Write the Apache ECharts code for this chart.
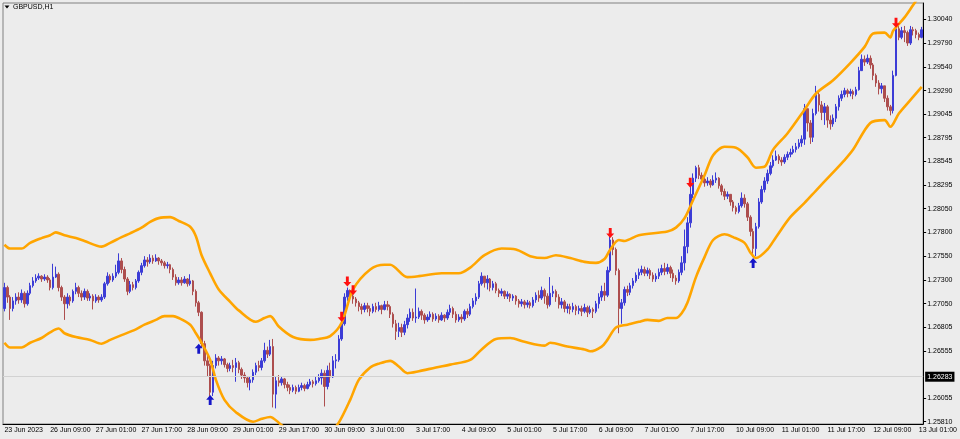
<!DOCTYPE html>
<html><head><meta charset="utf-8">
<script src="https://cdn.jsdelivr.net/npm/echarts@6/dist/echarts.min.js"></script>
<style>html,body{margin:0;padding:0;background:#ececec}#c{width:960px;height:439px}</style>
</head><body><div id="c"></div>
<script>
const symbolName = 'GBPUSD,H1';
const firstBarTime = Date.UTC(2023, 5, 23, 17);
const firstOpen = 1.2700;
const currentPrice = 1.26283;

const closes = [
1.2722,1.2712,1.2700,1.2708,1.2712,1.2709,1.2716,1.2705,1.2716,1.2724,
1.2729,1.2732,1.2734,1.2731,1.2733,1.2730,1.2722,1.2733,1.2736,1.2722,
1.2712,1.2705,1.2712,1.2708,1.2718,1.2722,1.2716,1.2712,1.2718,1.2711,
1.2713,1.2708,1.2712,1.2709,1.2712,1.2726,1.2734,1.2730,1.2734,1.2738,
1.2750,1.2741,1.2731,1.2718,1.2725,1.2722,1.2729,1.2738,1.2745,1.2751,
1.2749,1.2753,1.2750,1.2753,1.2750,1.2748,1.2745,1.2746,1.2741,1.2733,
1.2727,1.2730,1.2727,1.2731,1.2726,1.2729,1.2718,1.2706,1.2696,1.2663,
1.2645,1.2640,1.2612,1.2640,1.2648,1.2645,1.2647,1.2641,1.2637,1.2640,
1.2638,1.2643,1.2636,1.2630,1.2627,1.2622,1.2625,1.2633,1.2640,1.2638,
1.2645,1.2656,1.2652,1.2660,1.2610,1.2624,1.2622,1.2626,1.2620,1.2617,
1.2614,1.2617,1.2613,1.2617,1.2619,1.2616,1.2620,1.2623,1.2621,1.2624,
1.2627,1.2632,1.2618,1.2635,1.2628,1.2645,1.2646,1.2668,1.2684,1.2712,
1.2719,1.2713,1.2710,1.2706,1.2702,1.2699,1.2703,1.2700,1.2697,1.2702,
1.2699,1.2703,1.2699,1.2704,1.2702,1.2694,1.2684,1.2676,1.2680,1.2675,
1.2683,1.2690,1.2696,1.2690,1.2691,1.2697,1.2693,1.2688,1.2691,1.2694,
1.2689,1.2692,1.2688,1.2693,1.2690,1.2696,1.2700,1.2694,1.2688,1.2691,
1.2689,1.2697,1.2694,1.2702,1.2708,1.2712,1.2726,1.2734,1.2727,1.2731,
1.2722,1.2726,1.2719,1.2716,1.2718,1.2713,1.2715,1.2711,1.2713,1.2708,
1.2705,1.2707,1.2704,1.2706,1.2703,1.2709,1.2714,1.2711,1.2719,1.2713,
1.2704,1.2716,1.2718,1.2712,1.2704,1.2707,1.2700,1.2702,1.2699,1.2702,
1.2698,1.2700,1.2697,1.2701,1.2696,1.2699,1.2697,1.2705,1.2712,1.2718,
1.2714,1.2740,1.2772,1.2762,1.2740,1.2700,1.2706,1.2720,1.2717,1.2724,
1.2729,1.2735,1.2738,1.2741,1.2737,1.2740,1.2735,1.2731,1.2734,1.2738,
1.2742,1.2739,1.2743,1.2737,1.2732,1.2729,1.2738,1.2748,1.2765,1.2790,
1.2820,1.2837,1.2848,1.2840,1.2836,1.2832,1.2834,1.2830,1.2835,1.2837,
1.2829,1.2823,1.2818,1.2820,1.2812,1.2806,1.2802,1.2808,1.2816,1.2810,
1.2796,1.2781,1.2763,1.2786,1.2812,1.2825,1.2834,1.2842,1.2850,1.2856,
1.2860,1.2856,1.2854,1.2859,1.2862,1.2864,1.2867,1.2870,1.2874,1.2878,
1.2910,1.2895,1.2880,1.2905,1.2925,1.2914,1.2906,1.2912,1.2898,1.2894,
1.2900,1.2912,1.2921,1.2925,1.2929,1.2926,1.2928,1.2925,1.2930,1.2950,
1.2962,1.2959,1.2963,1.2956,1.2945,1.2937,1.2931,1.2934,1.2921,1.2912,
1.2908,1.2945,1.2994,1.2985,1.2992,1.2990,1.2979,1.2993,1.2992,1.2988,
1.2985,1.2993];

const highs = [
1.2727,1.2724,1.2714,1.2712,1.2716,1.2717,1.2720,1.2718,1.2719,1.2727,
1.2733,1.2736,1.2737,1.2735,1.2736,1.2735,1.2732,1.2747,1.2744,1.2738,
1.2724,1.2714,1.2716,1.2714,1.2720,1.2727,1.2724,1.2719,1.2721,1.2720,
1.2716,1.2715,1.2715,1.2714,1.2715,1.2728,1.2738,1.2736,1.2737,1.2746,
1.2758,1.2753,1.2744,1.2733,1.2729,1.2728,1.2731,1.2740,1.2748,1.2755,
1.2754,1.2757,1.2756,1.2757,1.2754,1.2752,1.2750,1.2749,1.2747,1.2743,
1.2736,1.2733,1.2733,1.2734,1.2732,1.2736,1.2730,1.2720,1.2708,1.2697,
1.2666,1.2650,1.2642,1.2645,1.2652,1.2650,1.2650,1.2648,1.2643,1.2643,
1.2646,1.2648,1.2645,1.2638,1.2633,1.2629,1.2628,1.2636,1.2643,1.2645,
1.2648,1.2664,1.2660,1.2667,1.2668,1.2628,1.2630,1.2629,1.2627,1.2623,
1.2620,1.2620,1.2619,1.2620,1.2622,1.2621,1.2623,1.2626,1.2625,1.2628,
1.2631,1.2636,1.2635,1.2640,1.2643,1.2650,1.2652,1.2672,1.2688,1.2716,
1.2722,1.2720,1.2715,1.2712,1.2708,1.2705,1.2706,1.2706,1.2703,1.2705,
1.2706,1.2707,1.2704,1.2708,1.2708,1.2704,1.2696,1.2688,1.2685,1.2684,
1.2687,1.2694,1.2700,1.2700,1.2721,1.2701,1.2699,1.2695,1.2694,1.2697,
1.2696,1.2695,1.2694,1.2696,1.2694,1.2699,1.2704,1.2702,1.2697,1.2694,
1.2694,1.2699,1.2700,1.2705,1.2711,1.2716,1.2729,1.2738,1.2734,1.2735,
1.2732,1.2729,1.2728,1.2721,1.2721,1.2719,1.2718,1.2716,1.2715,1.2714,
1.2710,1.2710,1.2709,1.2709,1.2708,1.2712,1.2717,1.2719,1.2723,1.2721,
1.2716,1.2733,1.2724,1.2720,1.2715,1.2711,1.2709,1.2705,1.2705,1.2706,
1.2704,1.2703,1.2703,1.2705,1.2703,1.2703,1.2701,1.2708,1.2716,1.2724,
1.2727,1.2744,1.2776,1.2775,1.2764,1.2742,1.2710,1.2723,1.2724,1.2727,
1.2732,1.2738,1.2742,1.2745,1.2744,1.2743,1.2742,1.2738,1.2737,1.2742,
1.2746,1.2748,1.2747,1.2745,1.2741,1.2735,1.2741,1.2755,1.2783,1.2796,
1.2828,1.2842,1.2850,1.2851,1.2843,1.2840,1.2838,1.2836,1.2840,1.2843,
1.2838,1.2831,1.2826,1.2823,1.2820,1.2814,1.2808,1.2811,1.2822,1.2820,
1.2812,1.2798,1.2784,1.2790,1.2816,1.2829,1.2838,1.2846,1.2854,1.2861,
1.2866,1.2862,1.2859,1.2862,1.2865,1.2868,1.2871,1.2874,1.2878,1.2882,
1.2915,1.2910,1.2898,1.2910,1.2934,1.2928,1.2918,1.2916,1.2914,1.2903,
1.2904,1.2915,1.2924,1.2929,1.2932,1.2931,1.2931,1.2930,1.2933,1.2954,
1.2967,1.2966,1.2967,1.2966,1.2958,1.2947,1.2940,1.2937,1.2934,1.2924,
1.2914,1.2950,1.3000,1.2998,1.2996,1.2997,1.2992,1.2997,1.2996,1.2994,
1.2990,1.2996];

const lows = [
1.2697,1.2706,1.2688,1.2697,1.2704,1.2705,1.2706,1.2701,1.2703,1.2714,
1.2722,1.2727,1.2730,1.2728,1.2729,1.2727,1.2719,1.2720,1.2732,1.2718,
1.2708,1.2688,1.2700,1.2703,1.2706,1.2715,1.2712,1.2708,1.2709,1.2708,
1.2708,1.2699,1.2706,1.2706,1.2707,1.2710,1.2724,1.2727,1.2728,1.2732,
1.2736,1.2737,1.2728,1.2714,1.2716,1.2719,1.2720,1.2727,1.2735,1.2743,
1.2744,1.2747,1.2747,1.2749,1.2746,1.2745,1.2742,1.2742,1.2737,1.2730,
1.2724,1.2725,1.2724,1.2726,1.2723,1.2724,1.2714,1.2702,1.2692,1.2659,
1.2640,1.2628,1.2607,1.2608,1.2637,1.2640,1.2641,1.2638,1.2633,1.2634,
1.2633,1.2623,1.2632,1.2626,1.2622,1.2617,1.2614,1.2622,1.2630,1.2634,
1.2635,1.2643,1.2648,1.2650,1.2596,1.2595,1.2618,1.2619,1.2616,1.2613,
1.2610,1.2612,1.2610,1.2612,1.2614,1.2613,1.2615,1.2618,1.2617,1.2619,
1.2622,1.2620,1.2597,1.2615,1.2622,1.2627,1.2637,1.2644,1.2666,1.2682,
1.2708,1.2708,1.2705,1.2702,1.2697,1.2694,1.2696,1.2696,1.2692,1.2695,
1.2696,1.2697,1.2694,1.2698,1.2698,1.2690,1.2680,1.2667,1.2670,1.2670,
1.2672,1.2679,1.2686,1.2687,1.2685,1.2689,1.2688,1.2684,1.2686,1.2688,
1.2686,1.2687,1.2685,1.2687,1.2686,1.2688,1.2693,1.2690,1.2685,1.2686,
1.2685,1.2687,1.2690,1.2692,1.2700,1.2704,1.2710,1.2724,1.2722,1.2720,
1.2718,1.2719,1.2716,1.2712,1.2713,1.2710,1.2710,1.2707,1.2708,1.2704,
1.2701,1.2702,1.2700,1.2701,1.2700,1.2701,1.2706,1.2707,1.2709,1.2705,
1.2700,1.2702,1.2712,1.2707,1.2700,1.2700,1.2696,1.2695,1.2694,1.2696,
1.2693,1.2694,1.2692,1.2695,1.2691,1.2694,1.2690,1.2695,1.2700,1.2708,
1.2708,1.2712,1.2738,1.2756,1.2735,1.2674,1.2684,1.2703,1.2713,1.2714,
1.2721,1.2727,1.2731,1.2735,1.2734,1.2734,1.2731,1.2728,1.2728,1.2731,
1.2735,1.2735,1.2736,1.2732,1.2728,1.2725,1.2727,1.2735,1.2740,1.2758,
1.2785,1.2816,1.2833,1.2836,1.2832,1.2828,1.2829,1.2827,1.2829,1.2832,
1.2826,1.2819,1.2814,1.2815,1.2808,1.2802,1.2799,1.2800,1.2806,1.2806,
1.2792,1.2776,1.2754,1.2755,1.2784,1.2810,1.2822,1.2831,1.2840,1.2848,
1.2855,1.2852,1.2850,1.2852,1.2856,1.2859,1.2862,1.2864,1.2868,1.2870,
1.2872,1.2886,1.2873,1.2875,1.2903,1.2907,1.2898,1.2893,1.2890,1.2888,
1.2891,1.2896,1.2908,1.2918,1.2922,1.2922,1.2923,1.2920,1.2923,1.2929,
1.2950,1.2955,1.2957,1.2952,1.2940,1.2933,1.2925,1.2926,1.2917,1.2908,
1.2903,1.2905,1.2944,1.2982,1.2983,1.2980,1.2976,1.2977,1.2987,1.2984,
1.2982,1.2984];

// band lines read at sample bars: [bar index, price]
const upperBand = [
[0,1.2767],[2,1.2763],[6,1.2763],[9,1.2769],[13,1.2774],[16,1.2777],[18,1.2780],[21,1.2777],[25,1.2774],[28,1.2771],
[34,1.2765],[37,1.2769],[41,1.2775],[44,1.2779],[48,1.2785],[51,1.2791],[54,1.2795],[58,1.2796],[61,1.2792],[65,1.2786],
[67,1.2776],[69,1.2756],[72,1.2737],[75,1.2720],[79,1.2707],[82,1.2698],[88,1.2686],[91,1.2690],[93,1.2692],[96,1.2681],
[101,1.2670],[107,1.2667],[110,1.2668],[114,1.2671],[118,1.2685],[122,1.2720],[128,1.2741],[133,1.2746],[135,1.2746],
[141,1.2733],[145,1.2734],[153,1.2737],[159,1.2737],[163,1.2743],[168,1.2756],[174,1.2763],[179,1.2762],[184,1.2755],[189,1.2753],
[193,1.2756],[198,1.2753],[203,1.2749],[207,1.2748],[210,1.2752],[212,1.2762],[215,1.2772],[217,1.2771],[222,1.2777],[232,1.2781],
[235,1.2785],[238,1.2795],[241,1.2814],[245,1.2840],[248,1.2861],[252,1.2870],[256,1.2869],[260,1.2859],[263,1.2848],[266,1.2849],
[269,1.2867],[274,1.2884],[280,1.2909],[284,1.2926],[290,1.2940],[296,1.2958],[301,1.2975],[304,1.2989],[308,1.2990],[310,1.2985],
[311,1.2992],[315,1.3006],[318,1.3019],[321,1.3032]];

const lowerBand = [
[0,1.2664],[2,1.2659],[6,1.2659],[9,1.2664],[13,1.2669],[16,1.2675],[19,1.2679],[21,1.2674],[25,1.2670],[30,1.2667],
[34,1.2663],[37,1.2667],[41,1.2672],[46,1.2678],[49,1.2683],[53,1.2688],[56,1.2692],[59,1.2692],[61,1.2690],[65,1.2683],
[67,1.2674],[69,1.2664],[72,1.2646],[74,1.2625],[77,1.2604],[81,1.2591],[87,1.2581],[90,1.2584],[93,1.2586],[96,1.2580],
[100,1.2570],[105,1.2562],[110,1.2562],[114,1.2570],[117,1.2580],[121,1.2604],[124,1.2625],[128,1.2638],[131,1.2642],[135,1.2645],
[138,1.2639],[141,1.2632],[145,1.2634],[151,1.2638],[156,1.2641],[163,1.2646],[167,1.2657],[172,1.2668],[177,1.2669],[182,1.2665],
[189,1.2661],[191,1.2664],[197,1.2660],[203,1.2657],[205,1.2655],[209,1.2660],[211,1.2667],[214,1.2680],[218,1.2683],[222,1.2686],
[225,1.2688],[229,1.2687],[232,1.2690],[235,1.2690],[237,1.2695],[239,1.2706],[242,1.2733],[245,1.2754],[248,1.2772],[252,1.2778],
[255,1.2775],[259,1.2769],[261,1.2759],[263,1.2753],[267,1.2762],[270,1.2775],[275,1.2796],[280,1.2811],[284,1.2824],[289,1.2840],
[294,1.2856],[297,1.2867],[303,1.2895],[308,1.2898],[310,1.2891],[313,1.2905],[317,1.2919],[321,1.2933]];

const buyArrows = [[68,1.2663],[72,1.2609],[262,1.2753]];
const sellArrows = [[118,1.2686],[120,1.2723],[122,1.2714],[212,1.2774],[240,1.2827],[312,1.2995]];

const priceTicks = [1.30040,1.29790,1.29540,1.29290,1.29045,1.28795,1.28545,1.28295,1.28050,1.27800,
1.27550,1.27300,1.27050,1.26805,1.26555,1.26055,1.25810];
const xTickStep = 16;
const xTickLabels = ['23 Jun 2023','26 Jun 09:00','27 Jun 01:00','27 Jun 17:00','28 Jun 09:00','29 Jun 01:00',
'29 Jun 17:00','30 Jun 09:00','3 Jul 01:00','3 Jul 17:00','4 Jul 09:00','5 Jul 01:00','5 Jul 17:00',
'6 Jul 09:00','7 Jul 01:00','7 Jul 17:00','10 Jul 09:00','11 Jul 01:00','11 Jul 17:00','12 Jul 09:00','13 Jul 01:00'];

// hourly bar times (market closed on weekends)
const categories = [];
(function(){
  let t = firstBarTime;
  for (let i = 0; i < closes.length; i++) {
    categories.push(new Date(t).toISOString().slice(0,13) + ':00');
    t += 3600000;
    while ([0,6].includes(new Date(t).getUTCDay())) t += 3600000;
  }
})();

const ohlc = closes.map((c, i) => [i ? closes[i-1] : firstOpen, c, lows[i], highs[i]]);

const FONT = 'Liberation Sans';
const BULL = '#3c3cd6', BEAR = '#ad4e4e', BAND = '#FFA500';
const upPath = 'path://M5,0 L10,5.5 L6.8,5.5 L6.8,12 L3.2,12 L3.2,5.5 L0,5.5 Z';
const downPath = 'path://M5,12 L10,6.5 L6.8,6.5 L6.8,0 L3.2,0 L3.2,6.5 L0,6.5 Z';

const chart = echarts.init(document.getElementById('c'), null, {renderer: 'canvas'});
chart.setOption({
  animation: false,
  backgroundColor: '#ececec',
  graphic: [
    {type: 'polygon', shape: {points: [[4.5,5.5],[9.5,5.5],[7,8.5]]}, style: {fill: '#000'}, z: 100},
    {type: 'text', left: 13, top: 4, style: {text: symbolName, font: '7px "' + FONT + '"', fill: '#000'}, z: 100}
  ],
  grid: {left: 3, right: 33, top: 3, bottom: 15, show: true, borderColor: '#808080', borderWidth: 1},
  xAxis: {
    type: 'category', data: categories, boundaryGap: true,
    axisLine: {lineStyle: {color: '#000', width: 1}},
    axisTick: {alignWithLabel: true, interval: (i) => i % xTickStep === 0, length: 3, lineStyle: {color: '#000'}},
    axisLabel: {
      interval: (i) => i % xTickStep === 0,
      formatter: (v, i) => xTickLabels[Math.round(i / xTickStep)] || '',
      align: 'left', margin: 3, fontSize: 7, fontFamily: FONT, color: '#000'
    },
    splitLine: {show: false}
  },
  yAxis: {
    type: 'value', position: 'right', min: 1.25786, max: 1.30211, scale: true,
    axisLine: {show: true, lineStyle: {color: '#000', width: 1}},
    axisTick: {show: true, inside: false, length: 3, customValues: priceTicks, lineStyle: {color: '#000'}},
    axisLabel: {customValues: priceTicks, formatter: (v) => v.toFixed(5), margin: 4, fontSize: 7, fontFamily: FONT, color: '#000'},
    splitLine: {show: false}
  },
  series: [
    {
      type: 'line', data: [[0, currentPrice]], showSymbol: false, lineStyle: {width: 0}, z: 1, silent: true,
      markLine: {
        silent: true, symbol: 'none', animation: false, precision: 5,
        data: [{yAxis: currentPrice}],
        lineStyle: {color: '#d2d2d2', width: 1, type: 'solid'},
        label: {show: true, position: 'end', distance: 2, formatter: currentPrice.toFixed(5),
          backgroundColor: '#000', color: '#fff', fontSize: 7, fontFamily: FONT, padding: [2, 2, 1, 2]}
      }
    },
    {
      type: 'candlestick', data: ohlc, barWidth: 2, z: 2,
      itemStyle: {color: BULL, color0: BEAR, borderColor: BULL, borderColor0: BEAR, borderWidth: 1}
    },
    {type: 'line', data: upperBand, showSymbol: false, smooth: 0.3, lineStyle: {color: BAND, width: 2.6}, z: 3},
    {type: 'line', data: lowerBand, showSymbol: false, smooth: 0.3, lineStyle: {color: BAND, width: 2.6}, z: 3},
    {type: 'scatter', data: buyArrows, symbol: upPath, symbolSize: [8, 10], symbolOffset: [0, '50%'],
      itemStyle: {color: '#1616c8', opacity: 1}, z: 5},
    {type: 'scatter', data: sellArrows, symbol: downPath, symbolSize: [8, 10], symbolOffset: [0, '-50%'],
      itemStyle: {color: '#ff1010', opacity: 1}, z: 5}
  ]
});
</script>
</body></html>
